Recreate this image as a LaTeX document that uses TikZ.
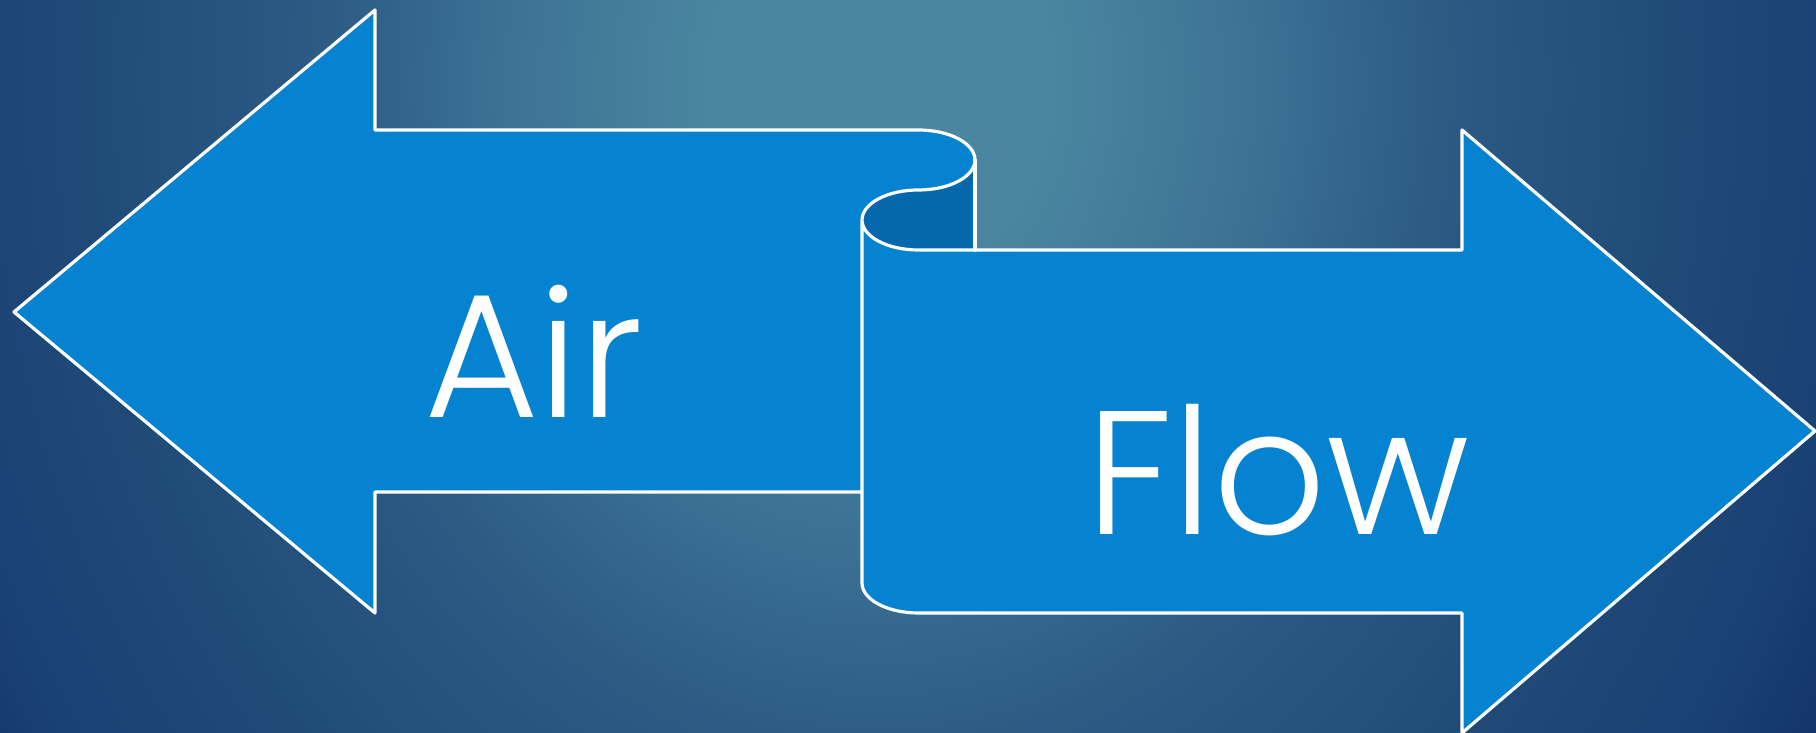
\documentclass[tikz,border=0pt]{standalone}
\usepackage{fontspec}
\setmainfont{Poppins}[UprightFont=* Light]
\definecolor{bgA}{HTML}{4A86A0}
\definecolor{bgB}{HTML}{3C7194}
\definecolor{bgC}{HTML}{2D5B84}
\definecolor{bgD}{HTML}{1F4A78}
\definecolor{bgE}{HTML}{1A4174}
\definecolor{bgF}{HTML}{0F2D66}
\definecolor{arrowblue}{HTML}{0683D0}
\definecolor{curldark}{HTML}{0568AC}
\pgfdeclareradialshading{bgshade}{\pgfpoint{0bp}{0bp}}{color(0bp)=(bgA); color(2bp)=(bgA); color(4.5bp)=(bgB); color(6.5bp)=(bgC); color(9.5bp)=(bgD); color(11.5bp)=(bgE); color(13.5bp)=(bgF); color(50bp)=(bgF)}
\tikzset{
  outline/.style={draw=white, line width=3.2pt, line join=round, line cap=round},
  label/.style={text=white, font=\fontsize{176}{200}\selectfont, inner sep=0pt, anchor=base west}
}
\begin{document}
\begin{tikzpicture}[x=1pt,y=1pt]
\useasboundingbox (0,0) rectangle (1816,733);
\begin{scope}
  \clip (0,0) rectangle (1816,733);
  \fill[bgF] (0,0) rectangle (1816,733);
  \shade[shading=bgshade] (880,650) ellipse [x radius=2120pt, y radius=2540pt];
\end{scope}
% left arrow face
\fill[arrowblue] (14,421) -- (375,723) -- (375,603) -- (918.5,603)
  arc[start angle=90, end angle=0, x radius=56.5pt, y radius=30pt]
  -- (975,483) -- (862,483) -- (862,241) -- (375,241) -- (375,120) -- cycle;
% dark inside of the curl
\fill[curldark] (975,573) arc[start angle=0, end angle=-90, x radius=56.5pt, y radius=30pt]
  arc[start angle=90, end angle=270, x radius=56.5pt, y radius=30pt]
  -- (975,483) -- cycle;
% right arrow face
\fill[arrowblue] (862,513) arc[start angle=180, end angle=270, x radius=56.5pt, y radius=30pt]
  -- (1462,483) -- (1462,603) -- (1815,302) -- (1462,0) -- (1462,120) -- (918.5,120)
  arc[start angle=270, end angle=180, x radius=56.5pt, y radius=30pt] -- cycle;
% outlines
\draw[outline] (862,241) -- (375,241) -- (375,120) -- (14,421) -- (375,723) -- (375,603) -- (918.5,603)
  arc[start angle=90, end angle=-90, x radius=56.5pt, y radius=30pt]
  arc[start angle=90, end angle=270, x radius=56.5pt, y radius=30pt]
  -- (1462,483) -- (1462,603) -- (1815,302) -- (1462,0) -- (1462,120) -- (918.5,120)
  arc[start angle=270, end angle=180, x radius=56.5pt, y radius=30pt] -- (862,513);
\draw[outline] (975,573) -- (975,483);
% labels
\node[label] (air) at (424,315) {Air};
\node[label] (flow) at (1086,198) {Flow};
\end{tikzpicture}
\end{document}
